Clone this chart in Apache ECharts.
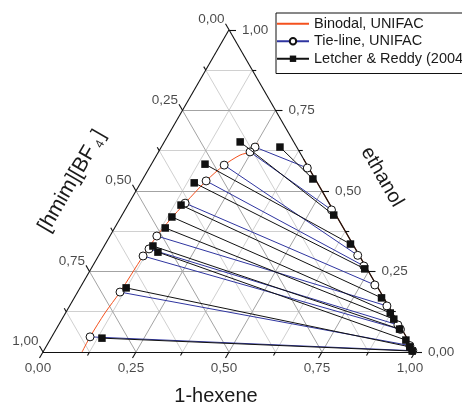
<!DOCTYPE html>
<html>
<head>
<meta charset="utf-8">
<script src="https://cdn.jsdelivr.net/npm/echarts@6/dist/echarts.min.js"></script>
<style>
  html, body { margin: 0; padding: 0; background: #fff; }
  #chart { width: 462px; height: 405px; }
</style>
</head>
<body>
<div id="chart"></div>
<script>
// compositions are [1-hexene, ethanol] mole fractions, [hmim][BF4] = 1 - both
const tickValues = [0, 0.25, 0.5, 0.75, 1];
const tickLabels = ['0,00', '0,25', '0,50', '0,75', '1,00'];
const minorValues = [0.125, 0.375, 0.625, 0.875];

const binodalLeft = [[0.105, 0], [0.103, 0.047], [0.106, 0.121], [0.114, 0.186], [0.120, 0.298],
  [0.126, 0.360], [0.136, 0.410], [0.151, 0.462], [0.173, 0.531], [0.197, 0.580],
  [0.224, 0.611], [0.246, 0.621], [0.252, 0.636], [0.254, 0.649]];
const binodalRight = [[1.0, 0], [0.9, 0.1], [0.8, 0.2], [0.7, 0.3], [0.6, 0.4],
  [0.5, 0.5], [0.4, 0.6]];

const unifacLeft = [[0.252, 0.636], [0.246, 0.621], [0.197, 0.580], [0.173, 0.531], [0.151, 0.462],
  [0.126, 0.360], [0.125, 0.320], [0.120, 0.298], [0.114, 0.186], [0.103, 0.047]];
const unifacRight = [[0.425, 0.571], [0.555, 0.441], [0.696, 0.300], [0.729, 0.267], [0.788, 0.208],
  [0.853, 0.143], [0.912, 0.084], [0.926, 0.070], [0.976, 0.020], [0.992, 0.004]];

const exptLeft = [[0.319, 0.636], [0.204, 0.652], [0.144, 0.583], [0.144, 0.525], [0.143, 0.456],
  [0.137, 0.419], [0.136, 0.385], [0.131, 0.329], [0.154, 0.310], [0.124, 0.199], [0.137, 0.043]];
const exptRight = [[0.457, 0.537], [0.569, 0.425], [0.659, 0.335], [0.736, 0.258], [0.826, 0.168],
  [0.873, 0.121], [0.892, 0.102], [0.923, 0.071], [0.957, 0.037], [0.978, 0.016], [0.991, 0.003]];

const SQ = Math.sqrt(3) / 2;
const PX = 1 / 372; // one pixel in data units
const FONT = "'Liberation Sans', Arial, sans-serif";

function tern(p) { return [p[0] + p[1] / 2, p[1] * SQ]; }
function seg(a, b) { return { coords: [a, b] }; }

// grid lines
let majorGrid = [], minorGrid = [];
[0.25, 0.5, 0.75].concat(minorValues).forEach(t => {
  let arr = minorValues.includes(t) ? minorGrid : majorGrid;
  arr.push(seg(tern([0, t]), tern([1 - t, t])));       // ethanol const
  arr.push(seg(tern([t, 0]), tern([t, 1 - t])));       // hexene const
  arr.push(seg(tern([1 - t, 0]), tern([0, 1 - t])));   // IL const
});

// ticks
let ticks = [];
tickValues.concat(minorValues).forEach(t => {
  let len = (tickValues.includes(t) ? 7 : 4) * PX;
  let b = tern([t, 0]);
  ticks.push(seg(b, [b[0] - 0.5 * len, b[1] - SQ * len]));
  let r = tern([1 - t, t]);
  ticks.push(seg(r, [r[0] + len, r[1]]));
  let l = tern([0, 1 - t]);
  ticks.push(seg(l, [l[0] - 0.5 * len, l[1] + SQ * len]));
});

const frame = [
  seg(tern([0, 0]), tern([1, 0])),
  seg(tern([1, 0]), tern([0, 1])),
  seg(tern([0, 1]), tern([0, 0]))
];

function labelSeries(points, label) {
  return {
    type: 'scatter', silent: true, symbolSize: 1, z: 5,
    itemStyle: { color: 'transparent' },
    data: points,
    label: Object.assign({
      show: true, position: 'inside', formatter: '{b}',
      fontFamily: FONT, fontSize: 13.5, color: '#1a1a1a'
    }, label)
  };
}

let series = [
  { type: 'lines', coordinateSystem: 'cartesian2d', silent: true, clip: false, z: 1,
    lineStyle: { color: '#d0d0d0', width: 1, opacity: 1 }, data: minorGrid },
  { type: 'lines', coordinateSystem: 'cartesian2d', silent: true, clip: false, z: 1,
    lineStyle: { color: '#a3a3a3', width: 1, opacity: 1 }, data: majorGrid },
  { name: 'Binodal, UNIFAC', type: 'line', smooth: 0.3, symbol: 'none', clip: false, z: 2,
    lineStyle: { color: '#f4511e', width: 1 }, itemStyle: { color: '#f4511e' },
    data: binodalLeft.map(tern) },
  { name: 'Binodal, UNIFAC', type: 'line', symbol: 'none', clip: false, z: 2,
    lineStyle: { color: '#a0401e', width: 1.2 }, itemStyle: { color: '#f4511e' },
    data: binodalRight.map(tern) },
  { type: 'lines', coordinateSystem: 'cartesian2d', silent: true, clip: false, z: 3,
    lineStyle: { color: '#111', width: 1.1, opacity: 1 }, data: frame.concat(ticks) }
];

unifacLeft.forEach((p, i) => {
  series.push({
    name: 'Tie-line, UNIFAC', type: 'line', clip: false, z: 4,
    symbol: 'circle', symbolSize: 8,
    lineStyle: { color: '#2f35a0', width: 1 },
    itemStyle: { color: '#fff', borderColor: '#111', borderWidth: 1 },
    data: [tern(p), tern(unifacRight[i])]
  });
});
exptLeft.forEach((p, i) => {
  series.push({
    name: 'Letcher & Reddy (2004)', type: 'line', clip: false, z: 5,
    symbol: 'rect', symbolSize: 7.5,
    lineStyle: { color: '#111', width: 1 },
    itemStyle: { color: '#111' },
    data: [tern(p), tern(exptRight[i])]
  });
});

series.push(labelSeries(tickValues.map((t, i) => ({ name: tickLabels[i], value: tern([t, 0]) })),
  { align: 'center', verticalAlign: 'middle', offset: [-5, 16] }));
series.push(labelSeries(tickValues.map((t, i) => ({ name: tickLabels[i], value: tern([1 - t, t]) })),
  { align: 'left', verticalAlign: 'middle', offset: [13, 0] }));
series.push(labelSeries(tickValues.map((t, i) => ({ name: tickLabels[i], value: tern([0, 1 - t]) })),
  { align: 'right', verticalAlign: 'middle', offset: [-4.5, -10.5] }));

const chart = echarts.init(document.getElementById('chart'));
chart.setOption({
  animation: false,
  backgroundColor: '#fff',
  grid: { left: 43, right: 47, top: 29.8, bottom: 53 },
  xAxis: { type: 'value', min: 0, max: 1, show: false },
  yAxis: { type: 'value', min: 0, max: SQ, show: false },
  legend: {
    left: 276, top: 13, orient: 'vertical',
    data: [
      { name: 'Binodal, UNIFAC', itemStyle: { opacity: 0 }, lineStyle: { color: '#f4511e' } },
      'Tie-line, UNIFAC',
      'Letcher & Reddy (2004)'
    ],
    borderColor: '#111', borderWidth: 1, borderRadius: 0,
    padding: [2, 4, 6, 0], itemGap: 0, itemWidth: 32, itemHeight: 8,
    textStyle: { fontFamily: FONT, fontSize: 14.5, color: '#1a1a1a', lineHeight: 17.5 }
  },
  graphic: [
    { type: 'text', x: 216, y: 396,
      style: { text: '1-hexene', font: '20px ' + FONT, fill: '#1a1a1a', textAlign: 'center', textVerticalAlign: 'middle' } },
    { type: 'text', x: 382, y: 177, rotation: -Math.PI / 3,
      style: { text: 'ethanol', font: '20px ' + FONT, fill: '#1a1a1a', textAlign: 'center', textVerticalAlign: 'middle' } },
    { type: 'text', x: 72, y: 181, rotation: Math.PI / 3,
      style: { text: '[hmim][BF{s|4}]', font: '21px ' + FONT, fill: '#1a1a1a', textAlign: 'center', textVerticalAlign: 'middle',
        rich: { s: { fontSize: 12, fontFamily: FONT, fill: '#1a1a1a', padding: [12, 2, 0, 4] } } } }
  ],
  series: series
});
</script>
</body>
</html>
